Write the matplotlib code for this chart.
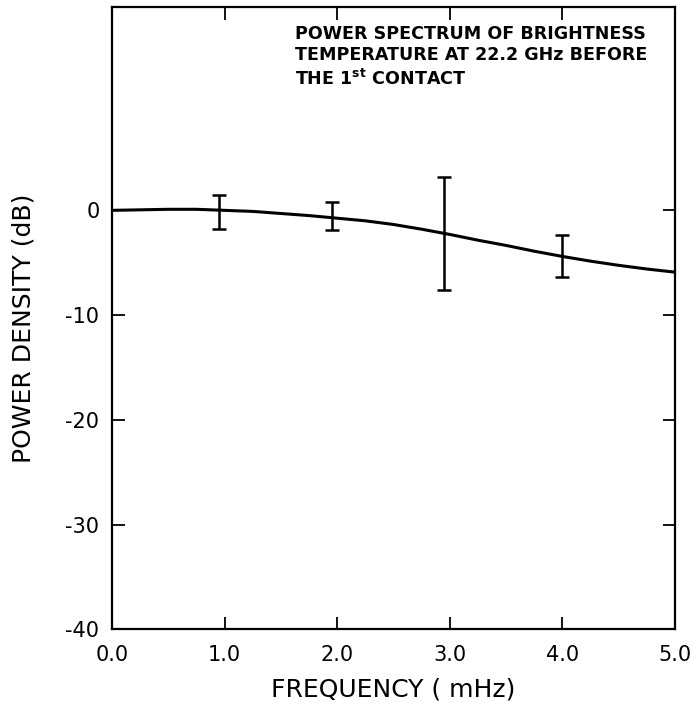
import numpy as np
import matplotlib.pyplot as plt

# smooth power spectrum curve (frequency in mHz, power in dB)
curve_f = [0.0, 0.25, 0.5, 0.75, 1.0, 1.25, 1.5, 1.75, 2.0, 2.25, 2.5,
           2.75, 3.0, 3.25, 3.5, 3.75, 4.0, 4.25, 4.5, 4.75, 5.0]
curve_db = [0.0, 0.05, 0.1, 0.1, 0.0, -0.1, -0.3, -0.5, -0.75, -1.0, -1.35,
            -1.8, -2.3, -2.85, -3.35, -3.9, -4.4, -4.85, -5.25, -5.6, -5.9]

# measured points with asymmetric error bars
pt_f = [0.95, 1.95, 2.95, 4.0]
pt_db = [0.0, -0.7, -2.2, -4.4]
err_lo = [1.75, 1.2, 5.45, 2.0]
err_hi = [1.5, 1.5, 5.4, 2.0]

xticks = [0.0, 1.0, 2.0, 3.0, 4.0, 5.0]
xticklabels = ['0.0', '1.0', '2.0', '3.0', '4.0', '5.0']
yticks = [-40, -30, -20, -10, 0]

fig = plt.figure(figsize=(6.93, 7.10), dpi=100)
ax = fig.add_axes([0.1616, 0.1135, 0.8125, 0.8765])

ax.plot(curve_f, curve_db, color='black', linewidth=2.2)
ax.errorbar(pt_f, pt_db, yerr=[err_lo, err_hi], fmt='none', ecolor='black',
            elinewidth=1.8, capsize=5, capthick=1.8)

ax.set_xlim(0, 5)
ax.set_ylim(-40, 19.4)
ax.set_xticks(xticks)
ax.set_xticklabels(xticklabels)
ax.set_yticks(yticks)
ax.set_yticklabels(['-40', '-30', '-20', '-10', '0'])
ax.tick_params(axis='both', direction='in', length=9, width=1.3,
               labelsize=15, top=True, right=True)
ax.tick_params(axis='x', pad=11)
ax.tick_params(axis='y', pad=9)
for spine in ax.spines.values():
    spine.set_linewidth(1.6)

ax.set_xlabel('FREQUENCY ( mHz)', fontsize=18, labelpad=9)
ax.set_ylabel('POWER DENSITY (dB)', fontsize=18)
ax.yaxis.set_label_coords(-0.135, 0.484)

ax.text(0.325, 0.972,
        'POWER SPECTRUM OF BRIGHTNESS\nTEMPERATURE AT 22.2 GHz BEFORE\n'
        'THE 1$^{\\mathregular{st}}$ CONTACT',
        transform=ax.transAxes, ha='left', va='top', fontsize=12.6,
        fontweight='semibold', linespacing=1.28)

fig.savefig('out.png', dpi=100)
